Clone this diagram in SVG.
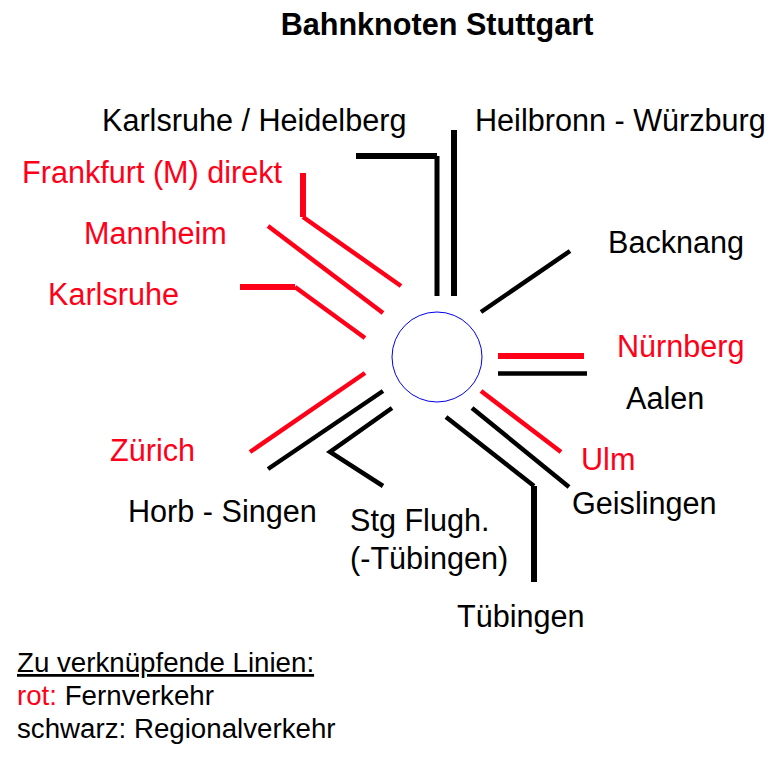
<svg xmlns="http://www.w3.org/2000/svg" width="780" height="758" viewBox="0 0 780 758">
<style>
text{font-family:"Liberation Sans",Arial,sans-serif;font-size:30.6px;fill:#000}
.legend text{font-size:27.7px}
.r,.legend .r{fill:#ff0019}
.title{font-weight:bold}
path{fill:none;stroke-linejoin:miter}
.k{stroke:#000;stroke-width:4.5}
.kt{stroke:#000;stroke-width:6}
.rl{stroke:#ff0019;stroke-width:4.5}
.rt{stroke:#ff0019;stroke-width:6}
</style>
<rect width="780" height="758" fill="#fff"/>
<text id="title" class="title" x="437" y="35" text-anchor="middle">Bahnknoten Stuttgart</text>
<g id="connectors">
<path class="kt" d="M356 156H437"/>
<path class="kt" d="M437 156V296" style="stroke-width:5"/>
<path class="kt" d="M454 130V296"/>
<path class="rt" d="M303 173V217"/>
<path class="rl" d="M303 217L401 286"/>
<path class="rl" d="M268 226L383 313"/>
<path class="rt" d="M240 287H295"/>
<path class="rl" d="M295 287L365 338"/>
<path class="k" d="M481 312L570 251"/>
<path class="rt" d="M498 356H584"/>
<path class="k" d="M498 373.500H587"/>
<path class="rl" d="M481 391L561 452"/>
<path class="k" d="M472 408L569 487"/>
<path class="k" d="M446 417L534 486"/>
<path class="kt" d="M534 486V582"/>
<path class="k" d="M392 408L330 452L383 486"/>
<path class="k" d="M383 391L268 469"/>
<path class="rl" d="M365 373L250 452"/>
</g>
<g id="hub"><circle cx="437" cy="357" r="45" fill="#fff" stroke="#0000e6" stroke-width="1"/></g>
<g id="labels">
<text x="102" y="131">Karlsruhe / Heidelberg</text>
<text x="475" y="131">Heilbronn - Würzburg</text>
<text class="r" x="22" y="183">Frankfurt (M) direkt</text>
<text class="r" x="84" y="244">Mannheim</text>
<text class="r" x="48" y="305">Karlsruhe</text>
<text x="608" y="253">Backnang</text>
<text class="r" x="617" y="357">Nürnberg</text>
<text x="626" y="409">Aalen</text>
<text class="r" x="581" y="470">Ulm</text>
<text x="572" y="514">Geislingen</text>
<text class="r" x="110" y="461">Zürich</text>
<text x="128" y="522">Horb - Singen</text>
<text x="350" y="531">Stg Flugh.</text>
<text x="350" y="569">(-Tübingen)</text>
<text x="457" y="627">Tübingen</text>
</g>
<g id="legend" class="legend">
<text x="17" y="672" text-decoration="underline">Zu verknüpfende Linien:</text>
<text x="17" y="705"><tspan class="r">rot:</tspan> Fernverkehr</text>
<text x="17" y="738">schwarz: Regionalverkehr</text>
</g>
</svg>
